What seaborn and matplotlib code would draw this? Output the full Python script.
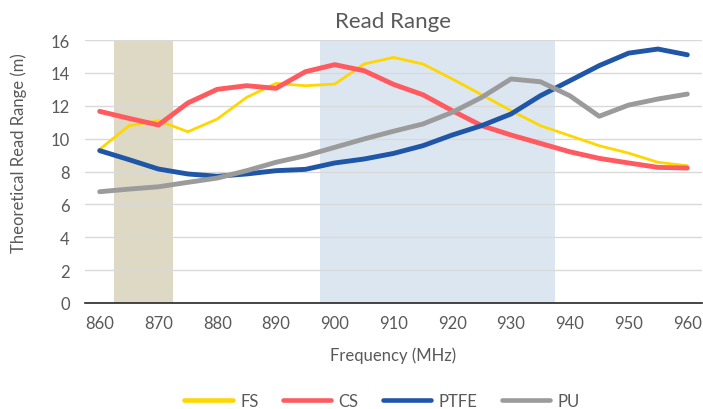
import matplotlib.pyplot as plt
import seaborn as sns
import pandas as pd

freq = list(range(860, 965, 5))
fs = [9.35, 10.79, 11.09, 10.42, 11.19, 12.51, 13.36, 13.22, 13.32, 14.54, 14.94,
      14.54, 13.63, 12.67, 11.7, 10.79, 10.18, 9.57, 9.12, 8.56, 8.35]
cs = [11.66, 11.23, 10.83, 12.17, 13.0, 13.22, 13.06, 14.07, 14.5, 14.13, 13.3,
      12.67, 11.7, 10.79, 10.22, 9.71, 9.2, 8.8, 8.52, 8.25, 8.21]
ptfe = [9.27, 8.72, 8.15, 7.85, 7.71, 7.85, 8.05, 8.13, 8.52, 8.76, 9.1,
        9.57, 10.22, 10.79, 11.5, 12.61, 13.52, 14.44, 15.2, 15.45, 15.1]
pu = [6.77, 6.93, 7.07, 7.34, 7.6, 8.05, 8.56, 8.96, 9.47, 9.98, 10.45,
      10.89, 11.6, 12.51, 13.63, 13.46, 12.61, 11.36, 12.04, 12.41, 12.71]
series = ["FS", "CS", "PTFE", "PU"]
colors = ["#FFD700", "#FF5A5F", "#1F56A8", "#9B9B9B"]
widths = [2.0, 3.5, 3.5, 3.5]

df = pd.DataFrame({"Frequency": freq * 4,
                   "Range": fs + cs + ptfe + pu,
                   "Material": [s for s in series for _ in freq]})

sns.set_style("white")
plt.rcParams['font.family'] = ['Lato', 'DejaVu Sans']
text_col = "#595959"

fig = plt.figure(figsize=(7.03, 4.10), dpi=100)
ax = fig.add_axes([85 / 703, 1 - 304 / 410, 617 / 703, 263 / 410])

# shaded bands
ax.axvspan(862.5, 872.5, color="#DDD9C4", zorder=0, lw=0)
ax.axvspan(897.5, 937.5, color="#DCE6F1", zorder=0, lw=0)

sns.lineplot(data=df, x="Frequency", y="Range", hue="Material",
             palette=dict(zip(series, colors)), ax=ax, legend=False,
             zorder=3)
for line, w in zip(ax.lines, widths):
    line.set_linewidth(w)
    line.set_solid_capstyle("round")
    line.set_solid_joinstyle("round")

ax.set_xlim(857.5, 962.5)
ax.set_ylim(0, 16)
ax.set_xticks(range(860, 961, 10))
ax.set_yticks(range(0, 17, 2))
ax.grid(axis="y", color="#D9D9D9", lw=1, zorder=1)
ax.set_axisbelow(True)
for s in ["top", "right", "left"]:
    ax.spines[s].set_visible(False)
ax.spines["bottom"].set_color("#262626")
ax.spines["bottom"].set_linewidth(1.2)
ax.tick_params(axis="both", length=0, labelsize=12, colors=text_col)
ax.tick_params(axis="y", pad=11)
ax.tick_params(axis="x", pad=9)

ax.set_xlabel("Frequency (MHz)", fontsize=12, color=text_col, labelpad=11)
ax.set_ylabel("")
fig.text(19 / 703, 1 - 153 / 410, "Theoretical Read Range (m)", rotation=90,
         ha="center", va="center", fontsize=12, color=text_col)
fig.text(393 / 703, 1 - 22 / 410, "Read Range", ha="center", va="center",
         fontsize=16, color=text_col)

handles = [plt.Line2D([0], [0], color=c, lw=3.3) for c in colors]
leg = fig.legend(handles, series, loc="center", bbox_to_anchor=(382 / 703, 1 - 402 / 410),
                 ncol=4, frameon=False, fontsize=12, handlelength=2.9,
                 columnspacing=1.45, handletextpad=0.45)
for t in leg.get_texts():
    t.set_color(text_col)

fig.savefig("out.png", dpi=100)
